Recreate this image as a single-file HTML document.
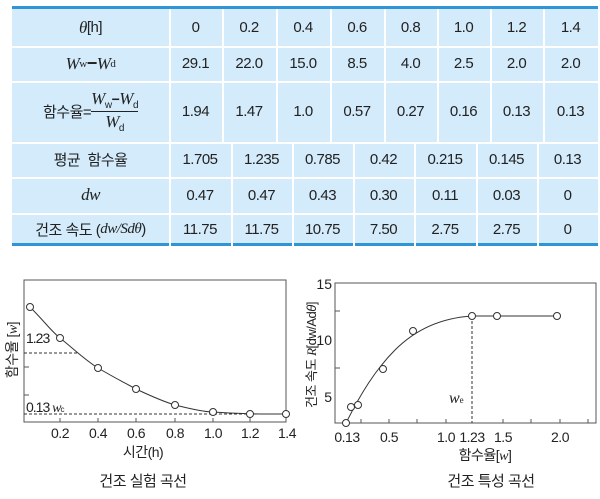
<!DOCTYPE html>
<html><head><meta charset="utf-8"><style>
body{margin:0;width:600px;height:499px;background:#fff;overflow:hidden;font-family:"Liberation Sans","Noto Sans CJK KR",sans-serif;}
.t{position:absolute;left:12px;top:6px;width:586px;height:240px;background:#d3ebfb;border-top:3px solid #2f95d6;border-bottom:3px solid #2f95d6;box-sizing:border-box;}
.c{position:absolute;text-align:center;font-size:15px;color:#222;display:flex;align-items:center;justify-content:center;letter-spacing:-0.5px;}
.v{position:absolute;width:2px;background:#fff;}
.h{position:absolute;left:0;width:586px;height:2px;background:#fff;}
i{font-family:"Liberation Serif",serif;font-size:17px;}
</style></head><body>
<div class="t" id="t"></div>
<script>
var t=document.getElementById('t');
var rows=[0,37,72,133,168,204,237];
function line(cls,st){var d=document.createElement('div');d.className=cls;d.style.cssText=st;t.appendChild(d);}
for(var r=1;r<6;r++)line('h','top:'+rows[r]+'px');
var c1=[157,210,264,318,372,425,478,531,586];
var c2=[157,219,280,341,402,464,525,586];
for(var k=0;k<8;k++)line('v','left:'+c1[k]+'px;top:0;height:133px');
for(var k=0;k<7;k++)line('v','left:'+c2[k]+'px;top:133px;height:104px');
function cell(x0,x1,y0,y1,h){var d=document.createElement('div');d.className='c';d.style.cssText='left:'+x0+'px;width:'+(x1-x0)+'px;top:'+y0+'px;height:'+(y1-y0)+'px';d.innerHTML=h;t.appendChild(d);}
var r1=['0','0.2','0.4','0.6','0.8','1.0','1.2','1.4'],r2=['29.1','22.0','15.0','8.5','4.0','2.5','2.0','2.0'],r3=['1.94','1.47','1.0','0.57','0.27','0.16','0.13','0.13'];
var r4=['1.705','1.235','0.785','0.42','0.215','0.145','0.13'],r5=['0.47','0.47','0.43','0.30','0.11','0.03','0'],r6=['11.75','11.75','10.75','7.50','2.75','2.75','0'];
cell(0,157,rows[0],rows[1],'<i>θ</i>[h]');
cell(0,157,rows[1],rows[2],'<i>W</i><sub style="font-size:11px;font-family:Liberation Serif">w</sub><b style="font-size:18px">−</b><i>W</i><sub style="font-size:11px;font-family:Liberation Serif">d</sub>');
cell(0,157,rows[2],rows[3],'함수율=<span style="display:inline-flex;flex-direction:column;align-items:center;font-size:14px"><span style="border-bottom:1px solid #222"><i>W</i><sub style="font-size:10px">w</sub><b>−</b><i>W</i><sub style="font-size:10px">d</sub></span><span><i>W</i><sub style="font-size:10px">d</sub></span></span>');
cell(0,157,rows[3],rows[4],'평균&nbsp; 함수율');
cell(0,157,rows[4],rows[5],'<i>dw</i>');
cell(0,157,rows[5],rows[6],'건조 속도 (<i style="font-size:15px">dw/Sdθ</i>)');
for(var k=0;k<8;k++){cell(c1[k],c1[k+1],rows[0],rows[1],r1[k]);cell(c1[k],c1[k+1],rows[1],rows[2],r2[k]);cell(c1[k],c1[k+1],rows[2],rows[3],r3[k]);}
for(var k=0;k<7;k++){cell(c2[k],c2[k+1],rows[3],rows[4],r4[k]);cell(c2[k],c2[k+1],rows[4],rows[5],r5[k]);cell(c2[k],c2[k+1],rows[5],rows[6],r6[k]);}
</script>
<svg width="600" height="499" style="position:absolute;left:0;top:0" font-family="Liberation Sans, Noto Sans CJK KR, sans-serif" font-size="14" fill="#222">
<g stroke="#555" fill="none">
<rect x="24" y="280" width="262" height="142"/>
<path d="M24 367h5M24 395h5M60 422v-4M98 422v-4M136 422v-4M175 422v-4M213 422v-4M250 422v-4"/>
<path d="M24 353h53M24 414h262" stroke-dasharray="3,2" stroke="#333"/>
<path d="M30 307 C45 322 52 332 60 338 C75 350 85 360 98 368 C115 378 125 383 136 389 C155 398 165 402 175 405 C195 410 205 412 213 412 C240 414 260 414 286 414" stroke="#333"/>
</g>
<g fill="#fff" stroke="#333"><circle cx="30" cy="307" r="3.5"/><circle cx="60" cy="338" r="3.5"/><circle cx="98" cy="368" r="3.5"/><circle cx="136" cy="389" r="3.5"/><circle cx="175" cy="405" r="3.5"/><circle cx="213" cy="412" r="3.5"/><circle cx="250" cy="414" r="3.5"/><circle cx="286" cy="414" r="3.5"/></g>
<text x="26" y="343" letter-spacing="-1">1.23</text>
<text x="26" y="412" letter-spacing="-1">0.13 <tspan font-family="Liberation Serif" font-style="italic">w</tspan><tspan font-size="8">c</tspan></text>
<g text-anchor="middle" letter-spacing="-0.5"><text x="60" y="438">0.2</text><text x="98" y="438">0.4</text><text x="136" y="438">0.6</text><text x="175" y="438">0.8</text><text x="213" y="438">1.0</text><text x="250" y="438">1.2</text><text x="287" y="438">1.4</text>
<text x="143" y="457">시간(h)</text><text x="143" y="486" font-size="15">건조 실험 곡선</text>
<text transform="translate(17,350) rotate(-90)">함수율 [<tspan font-family="Liberation Serif" font-style="italic">w</tspan>]</text></g>
<g stroke="#555" fill="none">
<rect x="335" y="283" width="261" height="140"/>
<path d="M335 311h5M335 368h5M361 423v-4M389 423v-4M417 423v-4M446 423v-4M503 423v-4M531 423v-4M560 423v-4M588 423v-4"/>
<path d="M472 316V423" stroke-dasharray="3,2" stroke="#333"/>
<path d="M346 423 C360 395 375 370 395 350 C415 330 440 318 472 316 L557 316" stroke="#333"/>
</g>
<g fill="#fff" stroke="#333"><circle cx="346" cy="423" r="3.5"/><circle cx="351" cy="407" r="3.5"/><circle cx="358" cy="405" r="3.5"/><circle cx="383" cy="369" r="3.5"/><circle cx="413" cy="331" r="3.5"/><circle cx="472" cy="316" r="3.5"/><circle cx="497" cy="316" r="3.5"/><circle cx="557" cy="316" r="3.5"/></g>
<g text-anchor="end"><text x="332" y="289">15</text><text x="332" y="345">10</text><text x="332" y="402">5</text></g>
<text x="449" y="403" font-family="Liberation Serif" font-style="italic" font-size="16">w<tspan font-size="9" font-style="normal">e</tspan></text>
<g text-anchor="middle" letter-spacing="-0.5"><text x="347" y="442">0.13</text><text x="389" y="442">0.5</text><text x="446" y="442">1.0</text><text x="472" y="442">1.23</text><text x="503" y="442">1.5</text><text x="560" y="442">2.0</text>
<text x="485" y="460">함수율[<tspan font-family="Liberation Serif" font-style="italic">w</tspan>]</text><text x="491" y="486" font-size="15">건조 특성 곡선</text>
<text transform="translate(316,355) rotate(-90)" font-size="13">건조 속도 <tspan font-family="Liberation Serif" font-style="italic">R</tspan>[dw/Ad<tspan font-style="italic">θ</tspan>]</text></g>
</svg>
</body></html>
